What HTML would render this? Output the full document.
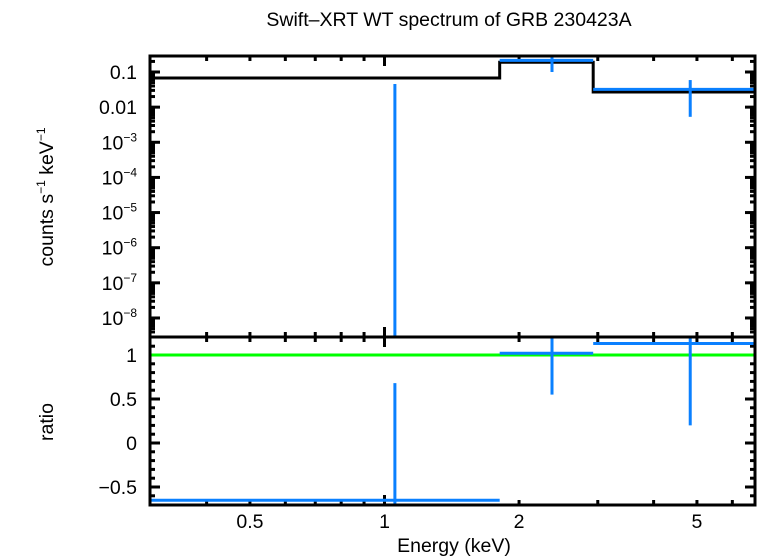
<!DOCTYPE html>
<html><head><meta charset="utf-8"><style>
html,body{margin:0;padding:0;background:#fff;width:758px;height:556px;overflow:hidden}
text{font-family:"Liberation Sans",sans-serif;fill:#000}
</style></head><body>
<svg id="c" width="758" height="556" xmlns="http://www.w3.org/2000/svg">
<text x="449" y="26" font-size="19.5" text-anchor="middle">Swift–XRT WT spectrum of GRB 230423A</text>
<text x="454" y="552" font-size="19.5" text-anchor="middle">Energy (keV)</text>
<text transform="translate(53,197) rotate(-90)" font-size="19.5" text-anchor="middle">counts s<tspan font-size="12" dy="-8">−1</tspan><tspan dy="8"> keV</tspan><tspan font-size="12" dy="-8">−1</tspan></text>
<text transform="translate(53,422) rotate(-90)" font-size="19.5" text-anchor="middle">ratio</text>
<g id="g"></g>
</svg>
<script>
// data
const binLo = [0.3, 1.81, 2.93];
const binHi = [1.81, 2.93, 6.74];
const binCenter = [1.055, 2.37, 4.83];
const modelVals = [0.0675, 0.189, 0.027];
const dataVals = [null, 0.215, 0.032];
const dataErrLo = [null, 0.1, 0.0053];
const dataErrHi = [0.0456, 0.5, 0.059];
const ratioVals = [-0.65, 1.02, 1.13];
const ratioErrLo = [-1, 0.55, 0.2];
const ratioErrHi = [0.68, 1.3, 1.3];
const xTickLabels = ["0.5", "1", "2", "5"];
const xTickVals = [0.5, 1, 2, 5];
const yTopTickVals = [-1, -2, -3, -4, -5, -6, -7, -8];
const yTopTickLabels = ["0.1", "0.01", "10", "10", "10", "10", "10", "10"];
const yTopTickExps = ["", "", "−3", "−4", "−5", "−6", "−7", "−8"];
const ratioTickVals = [1, 0.5, 0, -0.5];
const ratioTickLabels = ["1", "0.5", "0", "−0.5"];

const L = 150, R = 755, T = 56, M = 337, B = 505;
const xs = e => 384.5 + 447 * Math.log10(e);
const ysTop = v => 72 - 35.14 * (Math.log10(v) + 1);
const ysBot = v => 355 - 88 * (v - 1);
const clampT = y => Math.max(T, Math.min(M, y));
const clampB = y => Math.max(M, Math.min(B, y));
const NS = "http://www.w3.org/2000/svg";
const g = document.getElementById('g');
function el(tag, attrs, parent) {
  const e = document.createElementNS(NS, tag);
  for (const k in attrs) e.setAttribute(k, attrs[k]);
  (parent || g).appendChild(e);
  return e;
}
function line(x1, y1, x2, y2, stroke, w) {
  return el('line', {x1, y1, x2, y2, stroke, 'stroke-width': w});
}
const FS = 19.5;
// ticks x
const ax = el('g', {});


for (let d = -1; d <= 0; d++) for (let m = 1; m <= 9; m++) {
  const e = m * Math.pow(10, d);
  const x = xs(e);
  if (x < L + 2 || x > R - 2) continue;
  const len = m === 1 ? 10 : 5;
  el('line', {x1: x, y1: T, x2: x, y2: T + len, stroke: '#000', 'stroke-width': 3}, ax);
  el('line', {x1: x, y1: M - len, x2: x, y2: M + len, stroke: '#000', 'stroke-width': 3}, ax);
  el('line', {x1: x, y1: B, x2: x, y2: B - len, stroke: '#000', 'stroke-width': 3}, ax);
}
xTickVals.forEach((v, i) => {
  const t = el('text', {x: xs(v), y: 528, 'font-size': FS, 'text-anchor': 'middle'});
  t.textContent = xTickLabels[i];
  
  
});
// top y ticks
for (let d = -9; d <= 0; d++) for (let m = 1; m <= 9; m++) {
  const y = ysTop(m * Math.pow(10, d));
  if (y < T + 1 || y > M - 1) continue;
  const len = m === 1 ? 10 : 5;
  line(L, y, L + len, y, '#000', 3);
  line(R, y, R - len, y, '#000', 3);
}
yTopTickVals.forEach((v, i) => {
  const y = ysTop(Math.pow(10, v));
  const t = el('text', {x: 137, y: y + 7, 'font-size': FS, 'text-anchor': 'end'});
  
  
  if (yTopTickExps[i]) {
    t.innerHTML = yTopTickLabels[i] + '<tspan font-size="12" dy="-8">' + yTopTickExps[i] + '</tspan>';
  } else t.textContent = yTopTickLabels[i];
});
// bottom y ticks
for (let k = -7; k <= 11; k++) {
  const v = k / 10;
  const y = ysBot(v);
  if (y < M + 1 || y > B - 1) continue;
  const len = k % 5 === 0 ? 10 : 5;
  line(L, y, L + len, y, '#000', 3);
  line(R, y, R - len, y, '#000', 3);
}
ratioTickVals.forEach((v, i) => {
  const t = el('text', {x: 137, y: ysBot(v) + 7, 'font-size': FS, 'text-anchor': 'end'});
  t.textContent = ratioTickLabels[i];
  
  
});
// green unity line
const gl = line(L, ysBot(1), R, ysBot(1), '#00ff00', 3);


// model step
let d = '';
binLo.forEach((lo, i) => {
  const y = ysTop(modelVals[i]);
  d += (i === 0 ? 'M' : 'L') + Math.max(L, xs(lo)) + ',' + y + 'L' + Math.min(R, xs(binHi[i])) + ',' + y;
});
const mp = el('path', {d, fill: 'none', stroke: '#000', 'stroke-width': 3});


const blue = '#0a80ff';
// data points top
binLo.forEach((lo, i) => {
  const x = xs(binCenter[i]);
  if (dataVals[i] !== null) {
    const h = line(Math.max(L, xs(lo)), ysTop(dataVals[i]), Math.min(R, xs(binHi[i])), ysTop(dataVals[i]), blue, 3);
    
    
  }
  const lo2 = dataErrLo[i] === null ? M : clampT(ysTop(dataErrLo[i]));
  const v = line(x, lo2, x, clampT(ysTop(dataErrHi[i])), blue, 3);
  
  
});
// ratio points
binLo.forEach((lo, i) => {
  const x = xs(binCenter[i]);
  const h = line(Math.max(L, xs(lo)), ysBot(ratioVals[i]), Math.min(R, xs(binHi[i])), ysBot(ratioVals[i]), blue, 3);
  
  
  const v = line(x, clampB(ysBot(ratioErrLo[i])), x, clampB(ysBot(ratioErrHi[i])), blue, 3);
  
  
});
// frames
const f1 = el('rect', {x: L, y: T, width: R - L, height: M - T, fill: 'none', stroke: '#000', 'stroke-width': 3});


const f2 = el('rect', {x: L, y: M, width: R - L, height: B - M, fill: 'none', stroke: '#000', 'stroke-width': 3});


</script>
</body></html>
